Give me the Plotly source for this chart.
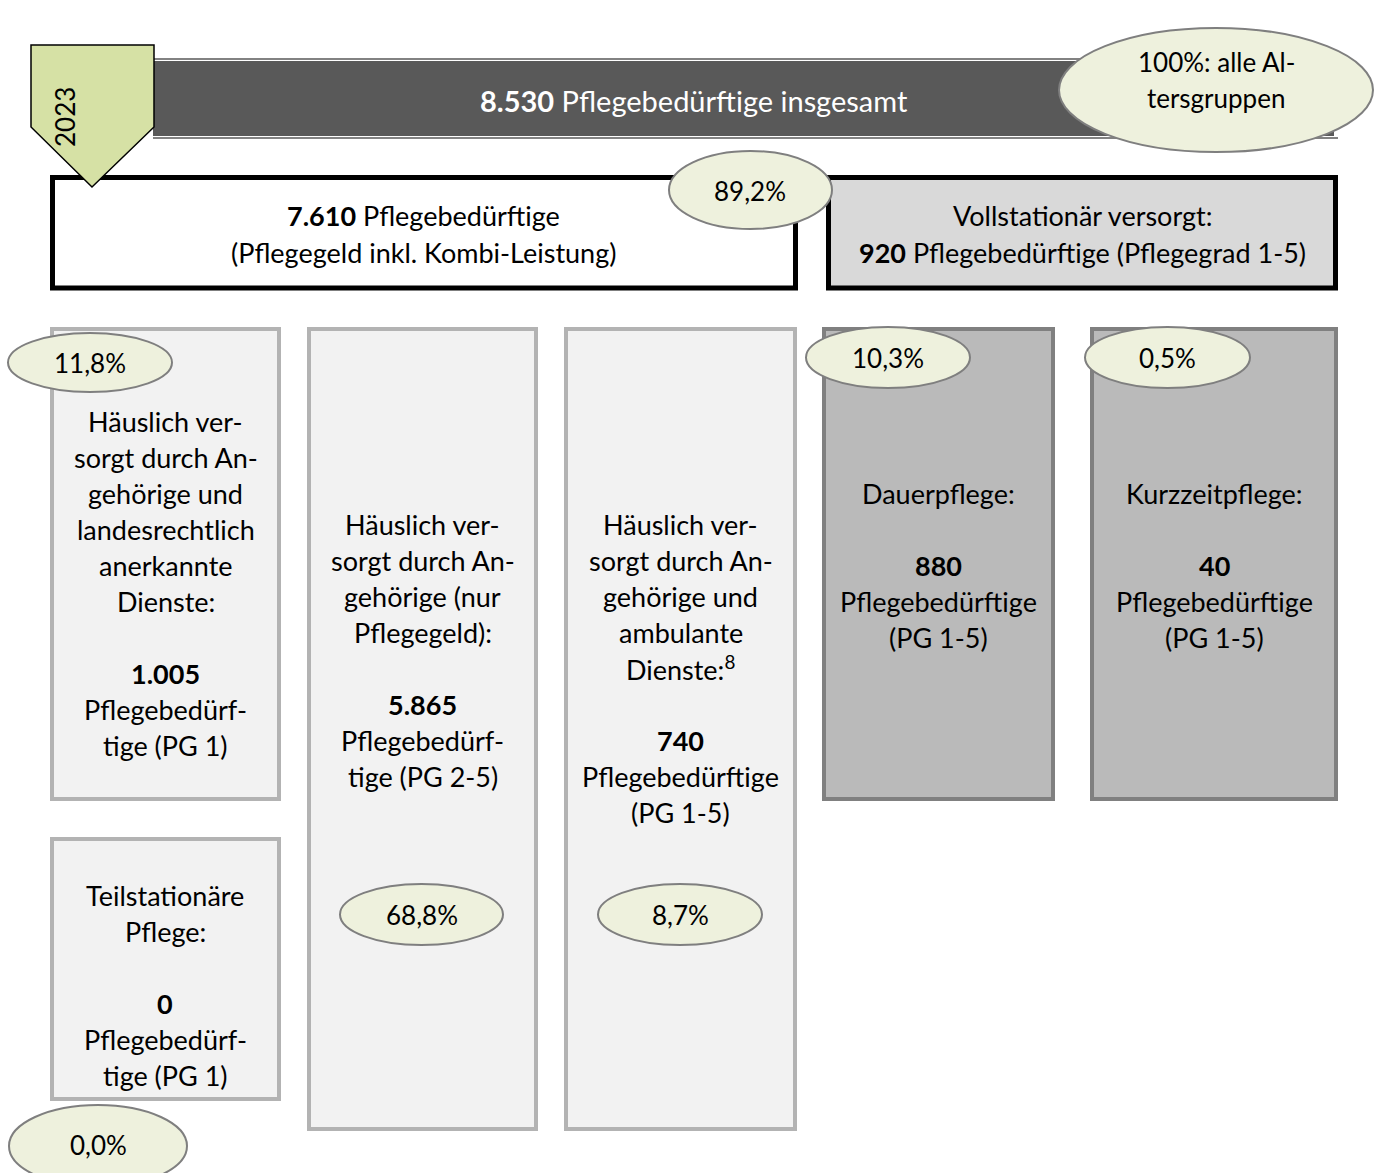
import plotly.graph_objects as go

# ---------------- data ----------------
year = "2023"
total_value = 8530
total_label = "Pflegebedürftige insgesamt"
total_share_label = ["100%: alle Al-", "tersgruppen"]

home_value = 7610
home_label = ["Pflegebedürftige", "(Pflegegeld inkl. Kombi-Leistung)"]
home_share = 89.2

stat_value = 920
stat_label = ["Vollstationär versorgt:", "Pflegebedürftige (Pflegegrad 1-5)"]

home_sub_values = [1005, 5865, 740]
home_sub_shares = [11.8, 68.8, 8.7]
home_sub_heads = [
    ["Häuslich ver-", "sorgt durch An-", "gehörige und", "landesrechtlich", "anerkannte", "Dienste:"],
    ["Häuslich ver-", "sorgt durch An-", "gehörige (nur", "Pflegegeld):"],
    ["Häuslich ver-", "sorgt durch An-", "gehörige und", "ambulante", "Dienste:<sup>8</sup>"],
]
home_sub_tails = [
    ["Pflegebedürf-", "tige (PG 1)"],
    ["Pflegebedürf-", "tige (PG 2-5)"],
    ["Pflegebedürftige", "(PG 1-5)"],
]

teil_value = 0
teil_share = 0.0
teil_head = ["Teilstationäre", "Pflege:"]
teil_tail = ["Pflegebedürf-", "tige (PG 1)"]

stat_sub_values = [880, 40]
stat_sub_shares = [10.3, 0.5]
stat_sub_heads = [["Dauerpflege:"], ["Kurzzeitpflege:"]]
stat_sub_tails = [["Pflegebedürftige", "(PG 1-5)"], ["Pflegebedürftige", "(PG 1-5)"]]


def fmt_num(v):
    return f"{v:,}".replace(",", ".")


def fmt_pct(p):
    return f"{p:.1f}".replace(".", ",") + "%"


# ---------------- style ----------------
FONT = "Lato, Open Sans, sans-serif"
FS = 27
FS_ELL = 26
FS_BANNER = 29
LINE = 36
ELL_FILL = "#eef1dd"
ELL_LINE = "#7f7f7f"
LIGHT_FILL = "#f2f2f2"
LIGHT_LINE = "#b3b3b3"
DARK_FILL = "#bababa"
DARK_LINE = "#808080"

W, H = 1381, 1173
fig = go.Figure()
shapes = []
annots = []


def text(x, y, s, color="black", size=FS, angle=0):
    annots.append(dict(x=x, y=y, xref="x", yref="y", text=s, showarrow=False,
                       xanchor="center", yanchor="middle", textangle=angle,
                       font=dict(family=FONT, size=size, color=color)))


def rect(x0, y0, x1, y1, fill, line, lw):
    shapes.append(dict(type="rect", xref="x", yref="y", x0=x0, y0=y0, x1=x1, y1=y1,
                       fillcolor=fill, line=dict(color=line, width=lw), layer="above"))


def ellipse(x0, y0, x1, y1):
    shapes.append(dict(type="circle", xref="x", yref="y", x0=x0, y0=y0, x1=x1, y1=y1,
                       fillcolor=ELL_FILL, line=dict(color=ELL_LINE, width=2), layer="above"))


def lines_block(cx, y_start, head, value, tail):
    y = y_start
    for s in head:
        text(cx, y, s)
        y += LINE
    y += LINE
    text(cx, y, f"<b>{fmt_num(value)}</b>")
    y += LINE
    for s in tail:
        text(cx, y, s)
        y += LINE


# top banner
shapes.append(dict(type="rect", xref="x", yref="y", x0=153, y0=61, x1=1334, y1=136,
                   fillcolor="#595959", line=dict(width=0), layer="above"))
for yy in (59, 138):
    shapes.append(dict(type="line", xref="x", yref="y", x0=153, x1=1338, y0=yy, y1=yy,
                       line=dict(color="#595959", width=1.5), layer="above"))
text(694, 100, f"<b>{fmt_num(total_value)}</b> {total_label}", color="white", size=FS_BANNER)

# level 2 boxes
rect(52.5, 177.5, 795.5, 288, "white", "black", 5)
text(423, 215, f"<b>{fmt_num(home_value)}</b> {home_label[0]}")
text(423, 252, home_label[1])
rect(828.5, 177.5, 1335.5, 288, "#d9d9d9", "black", 5)
text(1082, 215, stat_label[0])
text(1082, 252, f"<b>{fmt_num(stat_value)}</b> {stat_label[1]}")

# year pentagon
shapes.append(dict(type="path", xref="x", yref="y",
                   path="M31,45 L154,45 L154,127 L92,187 L31,127 Z",
                   fillcolor="#d6e1a5", line=dict(color="black", width=1.5), layer="above"))
text(65, 117, year, angle=-90, size=FS_ELL)

# ellipses level 1/2
ellipse(1059, 28, 1373, 152)
text(1216, 62, total_share_label[0], size=FS_ELL)
text(1216, 98, total_share_label[1], size=FS_ELL)
ellipse(669, 151, 832, 229)
text(750, 191, fmt_pct(home_share), size=FS_ELL)

# level 3 - home care columns
cols = [(52, 279), (309, 536), (566, 795)]
tops = [421, 524, 524]
bottoms = [799, 1129, 1129]
for i, (x0, x1) in enumerate(cols):
    rect(x0, 329, x1, bottoms[i], LIGHT_FILL, LIGHT_LINE, 4)
    lines_block((x0 + x1) / 2, tops[i], home_sub_heads[i], home_sub_values[i], home_sub_tails[i])

# teilstationär
rect(52, 839, 279, 1099, LIGHT_FILL, LIGHT_LINE, 4)
lines_block(165, 895, teil_head, teil_value, teil_tail)

# stationary columns
scols = [(824, 1053), (1092, 1336)]
for i, (x0, x1) in enumerate(scols):
    rect(x0, 329, x1, 799, DARK_FILL, DARK_LINE, 4)
    lines_block((x0 + x1) / 2, 493, stat_sub_heads[i], stat_sub_values[i], stat_sub_tails[i])

# percentage ellipses
ell_pos = [(8, 333, 172, 392), (340, 884, 503, 945), (598, 884, 762, 945)]
for (x0, y0, x1, y1), p in zip(ell_pos, home_sub_shares):
    ellipse(x0, y0, x1, y1)
    text((x0 + x1) / 2, (y0 + y1) / 2, fmt_pct(p), size=FS_ELL)
ellipse(9, 1105, 187, 1187)
text(98, 1145, fmt_pct(teil_share), size=FS_ELL)
sell_pos = [(806, 327, 970, 388), (1085, 327, 1250, 388)]
for (x0, y0, x1, y1), p in zip(sell_pos, stat_sub_shares):
    ellipse(x0, y0, x1, y1)
    text((x0 + x1) / 2, (y0 + y1) / 2, fmt_pct(p), size=FS_ELL)

fig.update_layout(
    width=W, height=H, margin=dict(l=0, r=0, t=0, b=0),
    paper_bgcolor="white", plot_bgcolor="white",
    xaxis=dict(range=[0, W], visible=False, fixedrange=True),
    yaxis=dict(range=[H, 0], visible=False, fixedrange=True),
    shapes=shapes, annotations=annots, showlegend=False,
)
fig.write_html("out.html", config={"displayModeBar": False},
               post_script="document.body.style.margin='0';document.body.style.overflow='hidden';")
